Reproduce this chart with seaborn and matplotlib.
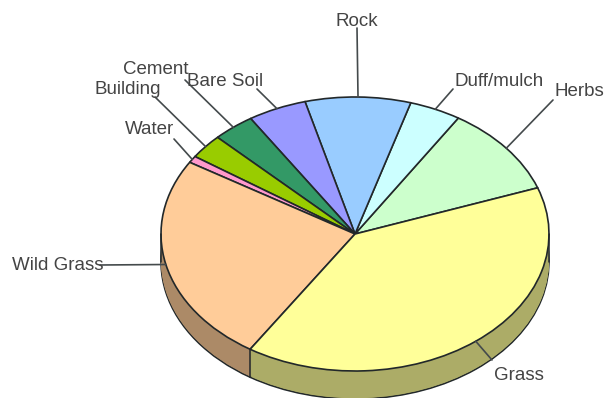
import numpy as np
import matplotlib
matplotlib.use("Agg")
import matplotlib.pyplot as plt
import seaborn as sns

categories = ["Herbs", "Duff/mulch", "Rock", "Bare Soil", "Cement", "Building", "Water", "Wild Grass", "Grass"]
values = [10.6, 4.3, 8.8, 4.9, 3.5, 2.9, 0.8, 24.7, 39.6]
slice_colors = ["#CCFFCC", "#CCFFFF", "#99CCFF", "#9999FF", "#339966", "#99CC00", "#FF99CC", "#FFCC99", "#FFFF99"]

W, H = 604, 398
CX, CY, RX, RY, DEPTH = 355, 234, 194, 137, 28
START = 19.7
EDGE = "#22282a"
TEXT = "#444444"

sns.set_theme(style="white")
plt.rcParams["font.family"] = ["Liberation Sans", "DejaVu Sans"]

palette = sns.color_palette(slice_colors)
dark = [tuple(c * 0.675 for c in col) for col in palette]

fig = plt.figure(figsize=(W / 100, H / 100), dpi=100, facecolor="white")
ax = fig.add_axes([0, 0, 1, 1])

d = DEPTH / RY
# extruded side: bottom outline, then solid layers up to the top face
ax.pie(values, colors=dark, startangle=START, radius=1, center=(0, -d),
       wedgeprops=dict(edgecolor=EDGE, linewidth=1.1))
for off in np.linspace(d, 0, DEPTH + 1)[1:]:
    ax.pie(values, colors=dark, startangle=START, radius=1, center=(0, -off),
           wedgeprops=dict(linewidth=0))

bounds = START + np.cumsum(values) / np.sum(values) * 360
mids = bounds - np.asarray(values) / np.sum(values) * 180

# vertical side edges: silhouette on both sides, and the visible slice joints
ax.plot([-1, -1], [0, -d], color=EDGE, lw=1.1)
ax.plot([1, 1], [0, -d], color=EDGE, lw=1.1)
for b in bounds:
    if np.sin(np.radians(b)) < 0:
        x = np.cos(np.radians(b))
        y = np.sin(np.radians(b))
        ax.plot([x, x], [y, y - d], color=EDGE, lw=1.1)

# top face
ax.pie(values, colors=palette, startangle=START, radius=1, center=(0, 0),
       wedgeprops=dict(edgecolor=EDGE, linewidth=1.2))

ax.set_aspect("auto")
ax.set_xlim(-CX / RX, (W - CX) / RX)
ax.set_ylim(-(H - CY) / RY, CY / RY)
ax.axis("off")


def px(x, y):
    return (x - CX) / RX, (CY - y) / RY


# label anchor (pixel centre) and outer end of each leader line
label_pos = {
    "Rock": (357, 21), "Duff/mulch": (499, 81), "Herbs": (579, 91),
    "Bare Soil": (225, 81), "Cement": (156, 70), "Building": (128, 89),
    "Water": (150, 130), "Wild Grass": (58, 266), "Grass": (519, 375),
}
leader_end = {
    "Rock": (357, 28), "Duff/mulch": (453, 89), "Herbs": (553, 100),
    "Bare Soil": (257, 89), "Cement": (185, 80), "Building": (155, 97),
    "Water": (174, 139), "Wild Grass": (100, 265), "Grass": (492, 360),
}
for name, m in zip(categories, mids):
    a = np.radians(m)
    ex, ey = px(*leader_end[name])
    ax.plot([np.cos(a), ex], [np.sin(a), ey], color="#444a4c", lw=1.2, solid_capstyle="round", zorder=5)
    tx, ty = px(*label_pos[name])
    ax.text(tx, ty, name, ha="center", va="center", fontsize=13.5, color=TEXT, zorder=6)

fig.savefig("out.png", dpi=100, facecolor="white")
